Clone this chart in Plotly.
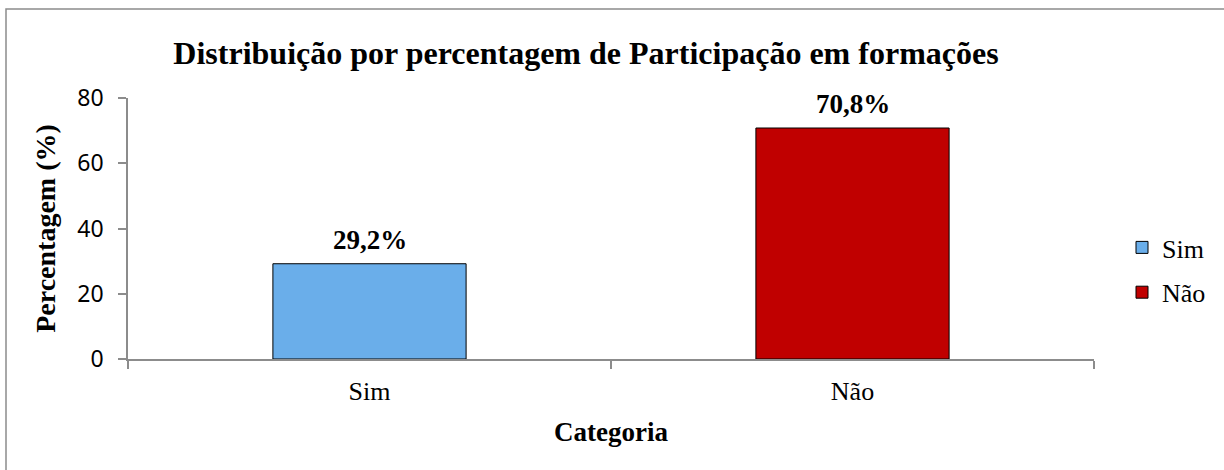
import plotly.graph_objects as go

categories = ["Sim", "Não"]
values = [29.2, 70.8]
value_labels = ["29,2%", "70,8%"]
colors = ["#6aaeea", "#c00000"]
y_ticks = [0, 20, 40, 60, 80]

W, H = 1224, 470
L, R, T, B = 128, 130, 98, 111
pw, ph = W - L - R, H - T - B

serif = "Liberation Serif, Times New Roman, serif"

fig = go.Figure()
for i, (c, v) in enumerate(zip(categories, values)):
    fig.add_trace(go.Bar(
        x=[c], y=[v], name=c, marker=dict(color=colors[i], line=dict(color="#000000", width=1)),
        legendgroup=c, hoverinfo="skip",
    ))
    fig.add_annotation(
        x=c, y=v, text="<b>%s</b>" % value_labels[i], showarrow=False,
        yanchor="bottom", yshift=7, font=dict(family=serif, size=27, color="#000000"),
    )

fig.update_layout(
    width=W, height=H,
    margin=dict(l=L, r=R, t=T, b=B, autoexpand=False),
    paper_bgcolor="white", plot_bgcolor="white",
    barmode="relative", bargap=0.6,
    title=dict(text="<b>Distribuição por percentagem de Participação em formações</b>",
               x=586 / W, xanchor="center", y=1 - 53 / H, yanchor="middle",
               font=dict(family=serif, size=32, color="#000000")),
    legend=dict(x=(1122 - L) / pw, y=(359 - 270) / ph, xanchor="left", yanchor="middle",
                font=dict(family=serif, size=26, color="#000000"), tracegroupgap=8,
                bgcolor="rgba(0,0,0,0)", itemwidth=30),
    showlegend=True,
)

fig.update_xaxes(
    categoryorder="array", categoryarray=categories,
    showline=True, linecolor="#8c8c8c", linewidth=1.5,
    ticks="outside", tickson="boundaries", ticklen=8, tickcolor="#8c8c8c", tickwidth=1.5,
    tickfont=dict(family=serif, size=26, color="#000000"), ticklabelstandoff=8,
    title=dict(text="<b>Categoria</b>", font=dict(family=serif, size=27, color="#000000"), standoff=17),
    showgrid=False, zeroline=False, fixedrange=True,
)
fig.update_yaxes(
    range=[0, 80], tickvals=y_ticks,
    showline=True, linecolor="#8c8c8c", linewidth=1.5,
    ticks="outside", ticklen=8, tickcolor="#8c8c8c", tickwidth=1.5,
    tickfont=dict(family="Noto Sans, Open Sans, sans-serif", size=23, color="#000000"), ticklabelstandoff=10,
    title=dict(text="<b>Percentagem (%)</b>", font=dict(family=serif, size=28, color="#000000"), standoff=14),
    showgrid=False, zeroline=False, fixedrange=True,
)

# outer chart border (extends past right/bottom edges like the reference)
fig.add_shape(type="rect", xref="paper", yref="paper",
              x0=(6 - L) / pw, x1=(1240 - L) / pw, y0=(359 - 490) / ph, y1=(359 - 9) / ph,
              line=dict(color="#8c8c8c", width=1.5), layer="below")

fig.write_html("out.html", config={"displayModeBar": False},
               post_script="document.body.style.margin='0';")
